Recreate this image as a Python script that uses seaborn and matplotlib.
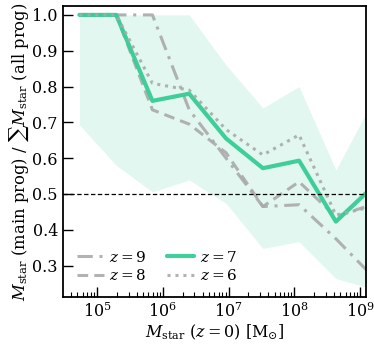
import numpy as np
import pandas as pd
import matplotlib
matplotlib.use('Agg')
import matplotlib.pyplot as plt
import seaborn as sns

# --- Data ---
log_mstar = [4.73, 5.29, 5.84, 6.40, 6.96, 7.52, 8.07, 8.63, 9.19]
frac_z9 = [1.0, 1.0, 1.0, 0.735, 0.60, 0.465, 0.47, 0.375, 0.27]
frac_z8 = [1.0, 1.0, 0.735, 0.695, 0.615, 0.465, 0.534, 0.437, 0.471]
frac_z7 = [1.0, 1.0, 0.760, 0.780, 0.655, 0.572, 0.593, 0.423, 0.52]
frac_z6 = [1.0, 1.0, 0.809, 0.790, 0.680, 0.609, 0.665, 0.441, 0.465]
z7_upper = [1.0, 1.0, 1.0, 1.0, 0.86, 0.74, 0.80, 0.567, 0.76]
z7_lower = [0.693, 0.58, 0.506, 0.539, 0.474, 0.348, 0.367, 0.264, 0.235]

GREEN = '#36cc96'
GREY = '#a9aaa9'

sns.set_style('ticks')
plt.rcParams['font.family'] = ['DejaVu Serif']
plt.rcParams['mathtext.fontset'] = 'dejavuserif'
plt.rcParams['font.size'] = 11.5
plt.rcParams['text.color'] = 'black'
plt.rcParams['axes.labelcolor'] = 'black'
plt.rcParams['xtick.color'] = 'black'
plt.rcParams['ytick.color'] = 'black'
plt.rcParams['axes.edgecolor'] = 'black'

df = pd.DataFrame({
    'mstar': np.power(10.0, log_mstar),
    'z9': frac_z9, 'z8': frac_z8, 'z7': frac_z7, 'z6': frac_z6,
})

fig = plt.figure(figsize=(3.74, 3.5), dpi=100)
ax = fig.add_axes([0.168, 0.151, 0.811, 0.832])

ax.fill_between(df['mstar'], z7_lower, z7_upper, color=GREEN, alpha=0.15, lw=0)

series = [
    ('z9', r'$z = 9$', GREY, (0, (5, 2.2, 1, 2.2)), 2.2),
    ('z8', r'$z = 8$', GREY, (0, (3.5, 2.0)), 2.2),
    ('z7', r'$z = 7$', GREEN, '-', 3.0),
    ('z6', r'$z = 6$', GREY, (0, (1, 1.6)), 2.2),
]
for col, label, color, ls, lw in series:
    sns.lineplot(data=df, x='mstar', y=col, ax=ax, color=color,
                 linestyle=ls, lw=lw, label=label,
                 alpha=0.95 if col == 'z7' else 0.9)

ax.axhline(0.5, color='k', ls='--', lw=0.9, dashes=(3.5, 2))

ax.set_xscale('log')
ax.set_xlim(10**4.478, 10**9.09)
ax.set_ylim(0.212, 1.025)
ax.set_yticks([0.3, 0.4, 0.5, 0.6, 0.7, 0.8, 0.9, 1.0])

ax.set_xlabel(r'$M_{\rm star}$ $(z = 0)$ [M$_{\odot}$]', fontsize=11.5, labelpad=1)
ax.set_ylabel(r'$M_{\rm star}$ (main prog) / $\sum M_{\rm star}$ (all prog)',
              fontsize=11.8, labelpad=1)

ax.tick_params(which='major', direction='in', length=7, width=1.0, labelsize=11.5)
ax.tick_params(which='minor', direction='in', length=3.5, width=0.8)
ax.tick_params(axis='y', which='minor', left=False)
for s in ax.spines.values():
    s.set_linewidth(1.3)

ax.legend(loc='lower left', ncol=2, frameon=False, fontsize=11,
          handlelength=1.8, handletextpad=0.35, columnspacing=1.3,
          labelspacing=0.25, borderaxespad=0.5)

fig.savefig('out.png', dpi=100)
